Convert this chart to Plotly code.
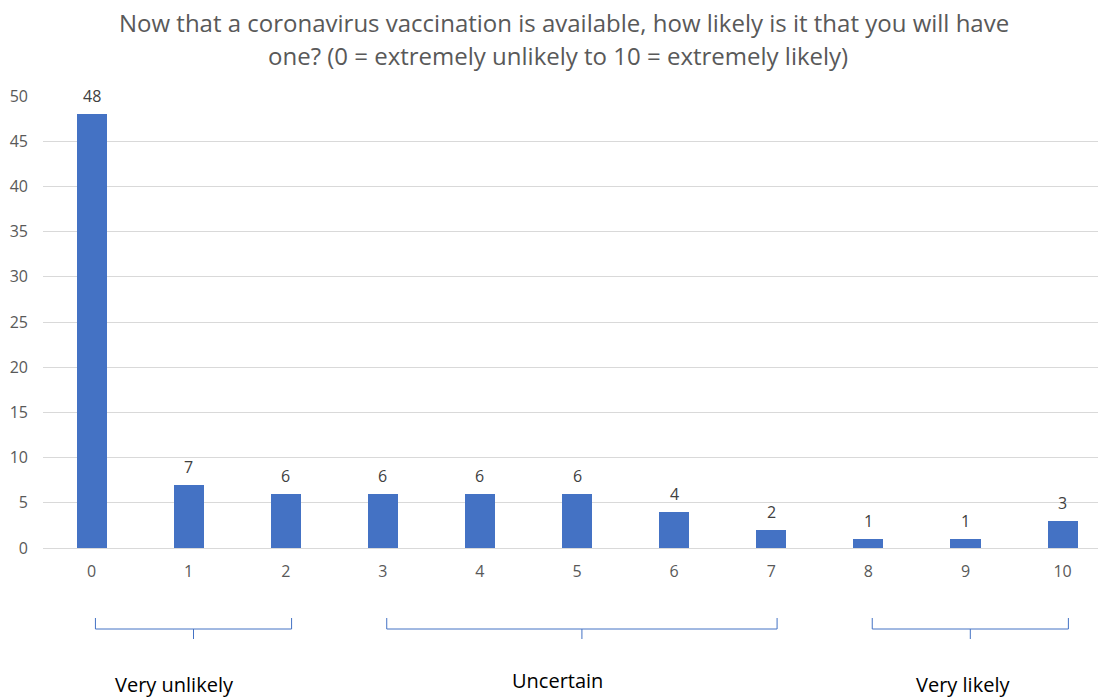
import plotly.graph_objects as go

categories = [0, 1, 2, 3, 4, 5, 6, 7, 8, 9, 10]
counts = [48, 7, 6, 6, 6, 6, 4, 2, 1, 1, 3]
y_ticks = [0, 5, 10, 15, 20, 25, 30, 35, 40, 45, 50]
groups = [("Very unlikely", 0, 2), ("Uncertain", 3, 7), ("Very likely", 8, 10)]
title_lines = ["Now that a coronavirus vaccination is available, how likely is it that you will have",
               "one? (0 = extremely unlikely to 10 = extremely likely)"]

FONT = "Open Sans"
W, H = 1098, 698
ML, MR, MT, MB = 43, 0, 96, 150
PH = H - MT - MB
PW = W - ML - MR


def py_to_paper(py):
    return (H - MB - py) / PH


def px_to_paper(px):
    return (px - ML) / PW


fig = go.Figure()
fig.add_trace(go.Bar(
    x=categories, y=counts, width=0.31,
    marker=dict(color="#4472c4", line=dict(width=0)),
    cliponaxis=False, hoverinfo="x+y",
))

annotations = []
for c, v in zip(categories, counts):
    annotations.append(dict(text=str(v), x=c, y=v, xref="x", yref="y", showarrow=False,
                            xanchor="center", yanchor="middle", yshift=18,
                            font=dict(family=FONT, size=16, color="#404040")))

shapes = []
ytop, ymid, ybot = py_to_paper(618), py_to_paper(629), py_to_paper(639)
label_py = {"Very unlikely": 684, "Uncertain": 680, "Very likely": 684}
label_dx = {"Very unlikely": -0.15, "Uncertain": -0.2, "Very likely": -0.03}
for name, a, b in groups:
    x0, x1 = a + 0.04, b + 0.06
    xc = (x0 + x1) / 2
    line = dict(color="#4472c4", width=1)
    shapes.append(dict(type="path", xref="x", yref="paper",
                       path=f"M {x0},{ytop} L {x0},{ymid} L {x1},{ymid} L {x1},{ytop}",
                       line=line))
    shapes.append(dict(type="line", xref="x", yref="paper", x0=xc, x1=xc, y0=ymid, y1=ybot, line=line))
    annotations.append(dict(text=name, xref="x", yref="paper", x=(a + b) / 2 + label_dx[name],
                            y=py_to_paper(label_py[name]), showarrow=False,
                            xanchor="center", yanchor="middle",
                            font=dict(family=FONT, size=20, color="#000000")))

for line_text, cx, py in zip(title_lines, [564, 558], [22, 55]):
    annotations.append(dict(text=line_text, xref="paper", yref="paper", x=px_to_paper(cx), y=py_to_paper(py),
                            showarrow=False, xanchor="center", yanchor="middle",
                            font=dict(family=FONT, size=24, color="#595959")))

fig.update_layout(
    width=W, height=H,
    margin=dict(l=ML, r=MR, t=MT, b=MB, pad=0),
    paper_bgcolor="white", plot_bgcolor="white",
    showlegend=False,
    xaxis=dict(range=[-0.5, 10.365], tickvals=categories, ticktext=[str(c) for c in categories],
               showgrid=False, zeroline=False, showline=False, ticks="",
               tickfont=dict(family=FONT, size=16, color="#595959"), ticklabelstandoff=12),
    yaxis=dict(range=[0, 50], tickvals=y_ticks, showgrid=True, gridcolor="#d9d9d9", gridwidth=1,
               zeroline=True, zerolinecolor="#d9d9d9", zerolinewidth=1, showline=False, ticks="",
               tickfont=dict(family=FONT, size=16, color="#595959"), ticklabelstandoff=14),
    shapes=shapes, annotations=annotations,
    bargap=0,
)

fig.write_html("out.html", config={"displayModeBar": False},
               post_script="document.body.style.margin='0';document.body.style.overflow='hidden';")
